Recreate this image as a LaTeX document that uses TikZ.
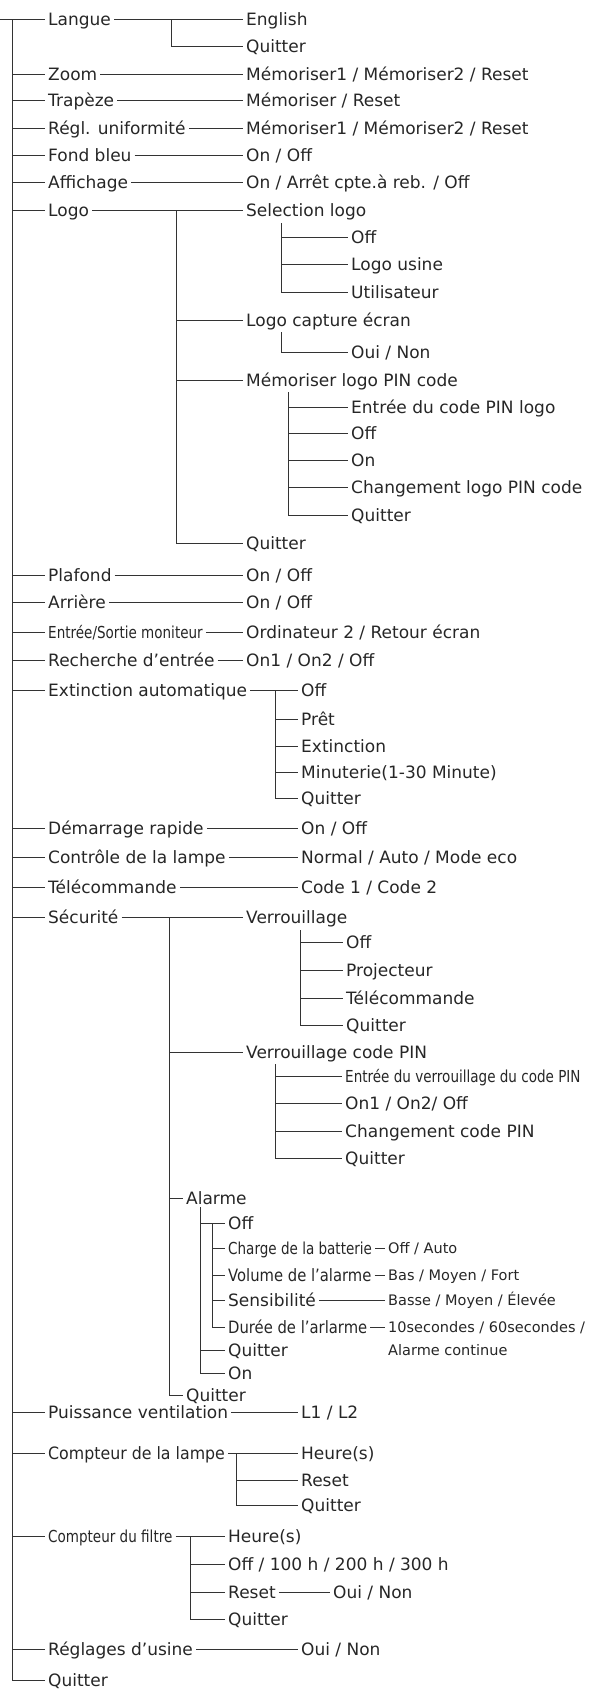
\documentclass[tikz,border=0pt]{standalone}
\usepackage{fontspec}
\setmainfont{DejaVu Sans}
\newfontfamily\narrowfont[FakeStretch=0.82]{DejaVu Sans}
\newfontfamily\midfont[FakeStretch=0.87]{DejaVu Sans}
\newfontfamily\tightfont[FakeStretch=0.93]{DejaVu Sans}
\tikzset{
  entry/.style={anchor=west, inner xsep=3pt, inner ysep=0pt, text height=12.4pt, text depth=0pt,
    text=black!85, font=\fontsize{17}{20}\selectfont},
  narrowentry/.style={entry, font=\narrowfont\fontsize{16.5}{19}\selectfont},
  midentry/.style={entry, font=\midfont\fontsize{17}{20}\selectfont},
  tightentry/.style={entry, font=\tightfont\fontsize{17}{20}\selectfont},
  valentry/.style={entry, text height=10.8pt, font=\fontsize{14.5}{17}\selectfont},
  branch/.style={draw=black!80, line width=0.9pt}
}
\begin{document}
\begin{tikzpicture}[x=1pt,y=-1pt]
\useasboundingbox (0,0) rectangle (595,1692);
% main menu
\coordinate (root) at (0,19);
\coordinate (trunk) at (12,19);
\node[entry] (langue) at (45,19) {Langue};
\node[entry] (zoom) at (45,74) {Zoom};
\node[entry] (trapeze) at (45,100) {Trapèze};
\node[entry] (regl) at (45,128) {Régl. uniformité};
\node[entry] (fond) at (45,155) {Fond bleu};
\node[entry] (affich) at (45,182) {Affichage};
\node[entry] (logo) at (45,210) {Logo};
\node[entry] (plafond) at (45,575) {Plafond};
\node[entry] (arriere) at (45,602) {Arrière};
\node[narrowentry] (entsort) at (45,632) {Entrée/Sortie moniteur};
\node[entry] (recherche) at (45,660) {Recherche d’entrée};
\node[entry] (extinct) at (45,690) {Extinction automatique};
\node[entry] (demarr) at (45,828) {Démarrage rapide};
\node[entry] (lampe) at (45,857) {Contrôle de la lampe};
\node[entry] (telec) at (45,887) {Télécommande};
\node[entry] (secu) at (45,917) {Sécurité};
\node[entry] (ventil) at (45,1412) {Puissance ventilation};
\node[tightentry] (cptlampe) at (45,1453) {Compteur de la lampe};
\node[narrowentry] (cptfiltre) at (45,1536) {Compteur du filtre};
\node[entry] (usine) at (45,1649) {Réglages d’usine};
\node[entry] (quitter) at (45,1680) {Quitter};

\draw[branch] (root) -- (langue.west);
\draw[branch] (trunk) |- (quitter.west);
\draw[branch] (trunk |- zoom.west) -- (zoom.west) (trunk |- trapeze.west) -- (trapeze.west)
  (trunk |- regl.west) -- (regl.west) (trunk |- fond.west) -- (fond.west)
  (trunk |- affich.west) -- (affich.west) (trunk |- logo.west) -- (logo.west)
  (trunk |- plafond.west) -- (plafond.west) (trunk |- arriere.west) -- (arriere.west)
  (trunk |- entsort.west) -- (entsort.west) (trunk |- recherche.west) -- (recherche.west)
  (trunk |- extinct.west) -- (extinct.west) (trunk |- demarr.west) -- (demarr.west)
  (trunk |- lampe.west) -- (lampe.west) (trunk |- telec.west) -- (telec.west)
  (trunk |- secu.west) -- (secu.west) (trunk |- ventil.west) -- (ventil.west)
  (trunk |- cptlampe.west) -- (cptlampe.west) (trunk |- cptfiltre.west) -- (cptfiltre.west)
  (trunk |- usine.west) -- (usine.west);

% Langue ... Affichage
\node[entry] (english) at (243,19) {English};
\node[entry] (langueq) at (243,46) {Quitter};
\node[entry] (zoomv) at (243,74) {Mémoriser1 / Mémoriser2 / Reset};
\node[entry] (trapv) at (243,100) {Mémoriser / Reset};
\node[entry] (reglv) at (243,128) {Mémoriser1 / Mémoriser2 / Reset};
\node[entry] (fondv) at (243,155) {On / Off};
\node[entry] (affv) at (243,182) {On / Arrêt cpte.à reb. / Off};
\coordinate (jlangue) at (171,19);
\draw[branch] (langue.east) -- (english.west) (jlangue) |- (langueq.west);
\draw[branch] (zoom.east) -- (zoomv.west) (trapeze.east) -- (trapv.west)
  (regl.east) -- (reglv.west) (fond.east) -- (fondv.west) (affich.east) -- (affv.west);

% Logo
\node[entry] (sellogo) at (243,210) {Selection logo};
\node[entry] (seloff) at (348,237) {Off};
\node[entry] (selusine) at (348,264) {Logo usine};
\node[entry] (selutil) at (348,292) {Utilisateur};
\node[entry] (capture) at (243,320) {Logo capture écran};
\node[entry] (captoui) at (348,352) {Oui / Non};
\node[entry] (pinlogo) at (243,380) {Mémoriser logo PIN code};
\node[entry] (pinentree) at (348,407) {Entrée du code PIN logo};
\node[entry] (pinoff) at (348,433) {Off};
\node[entry] (pinon) at (348,460) {On};
\node[entry] (pinchg) at (348,487) {Changement logo PIN code};
\node[entry] (pinq) at (348,515) {Quitter};
\node[entry] (logoq) at (243,543) {Quitter};
\coordinate (jlogo) at (176,210);
\coordinate (jsel) at (281,223);
\coordinate (jcapt) at (281,332);
\coordinate (jpin) at (288,392);
\draw[branch] (logo.east) -- (sellogo.west) (jlogo) |- (logoq.west)
  (jlogo |- capture.west) -- (capture.west) (jlogo |- pinlogo.west) -- (pinlogo.west);
\draw[branch] (jsel) |- (selutil.west) (jsel |- seloff.west) -- (seloff.west)
  (jsel |- selusine.west) -- (selusine.west);
\draw[branch] (jcapt) |- (captoui.west);
\draw[branch] (jpin) |- (pinq.west) (jpin |- pinentree.west) -- (pinentree.west)
  (jpin |- pinoff.west) -- (pinoff.west) (jpin |- pinon.west) -- (pinon.west)
  (jpin |- pinchg.west) -- (pinchg.west);

% Plafond ... Telecommande
\node[entry] (plafv) at (243,575) {On / Off};
\node[entry] (arrv) at (243,602) {On / Off};
\node[entry] (entv) at (243,632) {Ordinateur 2 / Retour écran};
\node[entry] (rechv) at (243,660) {On1 / On2 / Off};
\node[entry] (extoff) at (298,690) {Off};
\node[entry] (extpret) at (298,719) {Prêt};
\node[entry] (extext) at (298,746) {Extinction};
\node[entry] (extmin) at (298,772) {Minuterie(1-30 Minute)};
\node[entry] (extq) at (298,798) {Quitter};
\node[entry] (demv) at (298,828) {On / Off};
\node[entry] (lampev) at (298,857) {Normal / Auto / Mode eco};
\node[entry] (telecv) at (298,887) {Code 1 / Code 2};
\coordinate (jext) at (275,690);
\draw[branch] (plafond.east) -- (plafv.west) (arriere.east) -- (arrv.west)
  (entsort.east) -- (entv.west) (recherche.east) -- (rechv.west);
\draw[branch] (extinct.east) -- (extoff.west) (jext) |- (extq.west)
  (jext |- extpret.west) -- (extpret.west) (jext |- extext.west) -- (extext.west)
  (jext |- extmin.west) -- (extmin.west);
\draw[branch] (demarr.east) -- (demv.west) (lampe.east) -- (lampev.west) (telec.east) -- (telecv.west);

% Securite
\node[entry] (verr) at (243,917) {Verrouillage};
\node[entry] (verroff) at (343,942) {Off};
\node[entry] (verrproj) at (343,970) {Projecteur};
\node[entry] (verrtel) at (343,998) {Télécommande};
\node[entry] (verrq) at (343,1025) {Quitter};
\node[entry] (verrpin) at (243,1052) {Verrouillage code PIN};
\node[narrowentry] (vpinentree) at (342,1076) {Entrée du verrouillage du code PIN};
\node[entry] (vpinon) at (342,1103) {On1 / On2/ Off};
\node[entry] (vpinchg) at (342,1131) {Changement code PIN};
\node[entry] (vpinq) at (342,1158) {Quitter};
\node[entry] (alarme) at (183,1198) {Alarme};
\node[entry] (aloff) at (225,1223) {Off};
\node[narrowentry] (alcharge) at (225,1248) {Charge de la batterie};
\node[midentry] (alvol) at (225,1275) {Volume de l’alarme};
\node[entry] (alsens) at (225,1300) {Sensibilité};
\node[midentry] (aldur) at (225,1327) {Durée de l’arlarme};
\node[entry] (alq) at (225,1350) {Quitter};
\node[entry] (alon) at (225,1373) {On};
\node[valentry] (chargev) at (385,1248) {Off / Auto};
\node[valentry] (volv) at (385,1275) {Bas / Moyen / Fort};
\node[valentry] (sensv) at (385,1300) {Basse / Moyen / Élevée};
\node[valentry] (durv) at (385,1327) {10secondes / 60secondes /};
\node[valentry] (durv2) at (385,1350) {Alarme continue};
\node[entry] (secuq) at (183,1395) {Quitter};
\coordinate (jsecu) at (169,917);
\coordinate (jverr) at (300,930);
\coordinate (jvpin) at (275,1064);
\coordinate (jalarme) at (200,1207);
\coordinate (jaloff) at (212,1223);
\draw[branch] (secu.east) -- (verr.west) (jsecu) |- (secuq.west)
  (jsecu |- verrpin.west) -- (verrpin.west) (jsecu |- alarme.west) -- (alarme.west);
\draw[branch] (jverr) |- (verrq.west) (jverr |- verroff.west) -- (verroff.west)
  (jverr |- verrproj.west) -- (verrproj.west) (jverr |- verrtel.west) -- (verrtel.west);
\draw[branch] (jvpin) |- (vpinq.west) (jvpin |- vpinentree.west) -- (vpinentree.west)
  (jvpin |- vpinon.west) -- (vpinon.west) (jvpin |- vpinchg.west) -- (vpinchg.west);
\draw[branch] (jalarme) |- (alon.west) (jalarme |- aloff.west) -- (aloff.west)
  (jalarme |- alq.west) -- (alq.west);
\draw[branch] (jaloff) |- (aldur.west) (jaloff |- alcharge.west) -- (alcharge.west)
  (jaloff |- alvol.west) -- (alvol.west) (jaloff |- alsens.west) -- (alsens.west);
\draw[branch] (alcharge.east) -- (chargev.west) (alvol.east) -- (volv.west)
  (alsens.east) -- (sensv.west) (aldur.east) -- (durv.west);

% Puissance ventilation ... Reglages d'usine
\node[entry] (ventilv) at (298,1412) {L1 / L2};
\node[entry] (lampeh) at (298,1453) {Heure(s)};
\node[entry] (lamper) at (298,1480) {Reset};
\node[entry] (lampeq) at (298,1505) {Quitter};
\node[entry] (filtreh) at (225,1536) {Heure(s)};
\node[entry] (filtreoff) at (225,1564) {Off / 100 h / 200 h / 300 h};
\node[entry] (filtrer) at (225,1592) {Reset};
\node[entry] (filtreq) at (225,1619) {Quitter};
\node[entry] (filtreoui) at (330,1592) {Oui / Non};
\node[entry] (usinev) at (298,1649) {Oui / Non};
\coordinate (jlampe) at (236,1453);
\coordinate (jfiltre) at (190,1536);
\draw[branch] (ventil.east) -- (ventilv.west);
\draw[branch] (cptlampe.east) -- (lampeh.west) (jlampe) |- (lampeq.west)
  (jlampe |- lamper.west) -- (lamper.west);
\draw[branch] (cptfiltre.east) -- (filtreh.west) (jfiltre) |- (filtreq.west)
  (jfiltre |- filtreoff.west) -- (filtreoff.west) (jfiltre |- filtrer.west) -- (filtrer.west);
\draw[branch] (filtrer.east) -- (filtreoui.west);
\draw[branch] (usine.east) -- (usinev.west);
\end{tikzpicture}
\end{document}
